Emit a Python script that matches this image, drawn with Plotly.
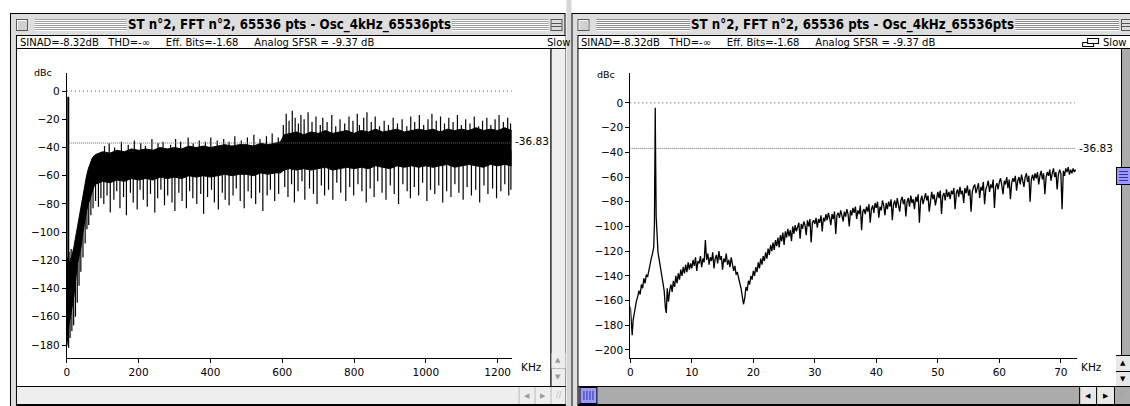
import plotly.graph_objects as go

W, H = 1130, 406

# ---------------- spectrum data ----------------
# Wide-band view (0 - 1240 kHz): band envelope of the dense FFT trace
wide_f = [0, 3, 6, 10, 15, 20, 25, 30, 35, 40, 45, 50, 55, 60, 65, 70, 75, 80, 90,
          100, 120, 140, 160, 180, 200, 220, 240, 260, 280, 300, 320, 340, 360, 380,
          400, 420, 440, 460, 480, 500, 520, 540, 560, 580, 595, 605, 620, 640, 660,
          680, 700, 720, 740, 760, 780, 800, 820, 840, 860, 880, 900, 920, 940, 960,
          980, 1000, 1020, 1040, 1060, 1080, 1100, 1120, 1140, 1160, 1180, 1200, 1220, 1239]
wide_hi = [-124, -118, -122, -119, -116, -110, -103, -96, -88, -80, -72, -66, -60, -55, -51, -48, -46, -45, -44,
           -43, -44, -42, -43, -41, -42, -41, -42, -40, -41, -40, -41, -39, -40, -39,
           -40, -39, -38, -39, -38, -38, -39, -37, -38, -37, -36, -31, -30, -29, -31,
           -29, -30, -28, -30, -29, -28, -30, -28, -29, -27, -29, -28, -27, -29, -28,
           -27, -28, -27, -29, -27, -28, -27, -28, -26, -28, -27, -28, -26, -28]
wide_lo = [-181, -172, -166, -160, -152, -145, -133, -122, -116, -110, -100, -91, -85, -80, -76, -72, -68, -66, -65,
           -64, -65, -63, -64, -62, -63, -62, -63, -61, -62, -61, -62, -60, -61, -60,
           -61, -60, -59, -60, -59, -59, -60, -58, -59, -58, -58, -56, -55, -56, -55,
           -56, -55, -54, -56, -55, -54, -55, -54, -55, -53, -54, -55, -53, -54, -53,
           -54, -53, -54, -53, -52, -54, -53, -52, -53, -54, -52, -53, -52, -53]

# Carrier line of the wide view
carrier_f = [4, 4]
carrier_db = [-120, -4]

# Upward excursions of the wide trace (start level inside the band, peak level)
up_f = [6, 12,
        105, 118, 133, 152, 171, 188, 206, 219, 237, 254, 268, 289, 303, 317, 338, 352, 369, 386,
        401, 419, 437, 452, 468, 486, 503, 521, 538, 556, 572, 589,
        603, 611, 619, 628, 636, 645, 652, 661, 672, 683, 694, 706, 713, 725, 738, 749, 761, 774,
        786, 797, 809, 815, 827, 836, 848, 859, 871, 884, 896, 909, 921, 934, 947, 958, 969, 982,
        994, 1006, 1017, 1029, 1041, 1052, 1064, 1076, 1088, 1099, 1111, 1123, 1135, 1147, 1158,
        1170, 1181, 1193, 1204, 1216, 1228, 1236]
up_from = [-130, -130,
           -48, -48, -48, -48, -48, -48, -48, -48, -48, -48, -48, -48, -48, -48, -48, -48, -48, -48,
           -48, -48, -48, -48, -48, -48, -48, -48, -48, -48, -48, -48,
           -38, -38, -38, -38, -38, -38, -38, -38, -38, -38, -38, -38, -38, -38, -38, -38, -38, -38,
           -38, -38, -38, -38, -38, -38, -38, -38, -38, -38, -38, -38, -38, -38, -38, -38, -38, -38,
           -38, -38, -38, -38, -38, -38, -38, -38, -38, -38, -38, -38, -38, -38, -38,
           -38, -38, -38, -38, -38, -38, -38]
up_to = [-114, -112,
         -39, -37, -40, -36, -38, -35, -37, -39, -34, -37, -36, -38, -34, -36, -33, -37, -35, -36,
         -33, -35, -34, -36, -32, -35, -33, -31, -34, -32, -30, -33,
         -24, -16, -21, -14, -19, -23, -17, -20, -15, -22, -18, -24, -19, -22, -17, -25, -20, -23,
         -18, -21, -16, -24, -19, -15, -22, -18, -25, -21, -24, -19, -23, -20, -25, -18, -22, -17,
         -24, -20, -16, -21, -18, -23, -19, -22, -17, -24, -20, -23, -18, -25, -21,
         -19, -24, -20, -17, -22, -19, -23]

# Downward excursions of the wide trace
dn_f = [5, 9, 14, 19, 24, 29, 34, 39, 45, 51, 56, 61, 67, 73, 80, 88, 95,
        103, 112, 121, 131, 139, 148, 158, 166, 177, 185, 196, 204, 213, 224, 233, 245, 253, 262,
        272, 281, 293, 301, 312, 321, 333, 342, 351, 362, 373, 381, 392, 403, 411, 422, 433, 441,
        452, 463, 472, 483, 494, 505, 514, 526, 537, 546, 558, 567, 579, 590,
        607, 616, 626, 634, 644, 655, 663, 676, 687, 697, 709, 718, 729, 741, 752, 763, 777, 788,
        799, 811, 822, 834, 845, 856, 866, 878, 889, 901, 912, 924, 936, 948, 957, 968, 980, 991,
        1003, 1013, 1025, 1036, 1047, 1058, 1070, 1081, 1092, 1104, 1115, 1127, 1139, 1150, 1162,
        1173, 1186, 1197, 1209, 1220, 1231, 1237]
dn_from = [-140, -140, -135, -128, -120, -110, -100, -95, -86, -78, -70, -65, -60, -55, -55, -55, -52,
           -52, -52, -52, -52, -52, -52, -52, -52, -52, -52, -52, -52, -52, -52, -52, -52, -52, -52,
           -52, -52, -52, -52, -52, -52, -52, -52, -52, -52, -52, -52, -52, -52, -52, -52, -52, -52,
           -52, -52, -52, -52, -52, -52, -52, -52, -52, -52, -52, -52, -52, -52,
           -42, -42, -42, -42, -42, -42, -42, -42, -42, -42, -42, -42, -42, -42, -42, -42, -42, -42,
           -42, -42, -42, -42, -42, -42, -42, -42, -42, -42, -42, -42, -42, -42, -42, -42, -42, -42,
           -42, -42, -42, -42, -42, -42, -42, -42, -42, -42, -42, -42, -42, -42, -42,
           -42, -42, -42, -42, -42, -42, -42]
dn_to = [-182, -175, -170, -166, -160, -150, -138, -128, -118, -108, -98, -95, -88, -83, -78, -82, -76,
         -80, -74, -86, -77, -71, -83, -75, -88, -72, -79, -84, -70, -77, -82, -73, -86, -76, -70,
         -81, -74, -79, -85, -72, -78, -83, -71, -76, -80, -73, -87, -75, -70, -79, -84, -72, -77,
         -81, -74, -69, -78, -83, -71, -76, -80, -72, -85, -74, -70, -78, -73,
         -68, -75, -66, -79, -71, -64, -77, -69, -73, -80, -67, -74, -70, -77, -65, -72, -78, -68,
         -74, -66, -71, -79, -69, -75, -64, -72, -77, -67, -73, -80, -66, -71, -76, -68, -74, -65,
         -78, -70, -73, -67, -79, -71, -75, -66, -72, -77, -68, -74, -70, -79, -67,
         -73, -69, -76, -71, -66, -74, -70]

# Zoomed view (0 - 72 kHz)
zoom_f = [0.0, 0.15, 0.3, 0.45, 0.6, 0.8, 1.0, 1.2, 1.4, 1.6, 1.8, 2.0, 2.2, 2.4, 2.6, 2.8,
          3.0, 3.2, 3.4, 3.6, 3.8, 3.92, 4.0, 4.05, 4.1, 4.2, 4.35, 4.5, 4.7, 4.9, 5.1, 5.3,
          5.5, 5.7, 5.85,
          6.0, 6.2, 6.4, 6.6, 6.8, 7.0, 7.2, 7.4, 7.6, 7.8,
          8.0, 8.2, 8.4, 8.6, 8.8, 9.0, 9.2, 9.4, 9.6, 9.8,
          10.0, 10.2, 10.4, 10.6, 10.8, 11.0, 11.2, 11.4, 11.6, 11.8,
          12.0, 12.2, 12.4, 12.6, 12.8, 13.0, 13.2, 13.4, 13.6, 13.8,
          14.0, 14.2, 14.4, 14.6, 14.8, 15.0, 15.2, 15.4, 15.6, 15.8,
          16.0, 16.2, 16.4, 16.6, 16.8, 17.0, 17.2, 17.4, 17.6, 17.8,
          18.0, 18.2, 18.4, 18.6, 18.8, 19.0, 19.2, 19.4, 19.6, 19.8,
          20.0, 20.2, 20.4, 20.6, 20.8, 21.0, 21.2, 21.4, 21.6, 21.8,
          22.0, 22.2, 22.4, 22.6, 22.8, 23.0, 23.2, 23.4, 23.6, 23.8,
          24.0, 24.2, 24.4, 24.6, 24.8, 25.0, 25.2, 25.4, 25.6, 25.8,
          26.0, 26.2, 26.4, 26.6, 26.8, 27.0, 27.2, 27.4, 27.6, 27.8,
          28.0, 28.2, 28.4, 28.6, 28.8, 29.0, 29.2, 29.4, 29.6, 29.8,
          30.0, 30.2, 30.4, 30.6, 30.8, 31.0, 31.2, 31.4, 31.6, 31.8,
          32.0, 32.2, 32.4, 32.6, 32.8, 33.0, 33.2, 33.4, 33.6, 33.8,
          34.0, 34.2, 34.4, 34.6, 34.8, 35.0, 35.2, 35.4, 35.6, 35.8,
          36.0, 36.2, 36.4, 36.6, 36.8, 37.0, 37.2, 37.4, 37.6, 37.8,
          38.0, 38.2, 38.4, 38.6, 38.8, 39.0, 39.2, 39.4, 39.6, 39.8,
          40.0, 40.2, 40.4, 40.6, 40.8, 41.0, 41.2, 41.4, 41.6, 41.8,
          42.0, 42.2, 42.4, 42.6, 42.8, 43.0, 43.2, 43.4, 43.6, 43.8,
          44.0, 44.2, 44.4, 44.6, 44.8, 45.0, 45.2, 45.4, 45.6, 45.8,
          46.0, 46.2, 46.4, 46.6, 46.8, 47.0, 47.2, 47.4, 47.6, 47.8,
          48.0, 48.2, 48.4, 48.6, 48.8, 49.0, 49.2, 49.4, 49.6, 49.8,
          50.0, 50.2, 50.4, 50.6, 50.8, 51.0, 51.2, 51.4, 51.6, 51.8,
          52.0, 52.2, 52.4, 52.6, 52.8, 53.0, 53.2, 53.4, 53.6, 53.8,
          54.0, 54.2, 54.4, 54.6, 54.8, 55.0, 55.2, 55.4, 55.6, 55.8,
          56.0, 56.2, 56.4, 56.6, 56.8, 57.0, 57.2, 57.4, 57.6, 57.8,
          58.0, 58.2, 58.4, 58.6, 58.8, 59.0, 59.2, 59.4, 59.6, 59.8,
          60.0, 60.2, 60.4, 60.6, 60.8, 61.0, 61.2, 61.4, 61.6, 61.8,
          62.0, 62.2, 62.4, 62.6, 62.8, 63.0, 63.2, 63.4, 63.6, 63.8,
          64.0, 64.2, 64.4, 64.6, 64.8, 65.0, 65.2, 65.4, 65.6, 65.8,
          66.0, 66.2, 66.4, 66.6, 66.8, 67.0, 67.2, 67.4, 67.6, 67.8,
          68.0, 68.2, 68.4, 68.6, 68.8, 69.0, 69.2, 69.4, 69.6, 69.8,
          70.0, 70.2, 70.4, 70.6, 70.8, 71.0, 71.2, 71.4, 71.6, 71.8,
          72.0, 72.2, 72.4]
zoom_db = [-165, -183, -188, -176, -171, -166, -160, -157, -152, -155, -147, -150, -142, -146, -139, -141,
           -135, -131, -126, -122, -117, -98, -40, -4, -38, -92, -109, -121, -127, -134, -139, -147,
           -152, -166, -170,
           -150, -161, -152, -147, -153, -144, -149, -140, -146, -138,
           -143, -135, -140, -133, -138, -131, -137, -129, -135, -130,
           -134, -127, -132, -125, -136, -128, -130, -124, -133, -126,
           -129, -111, -127, -122, -131, -125, -128, -121, -134, -126,
           -123, -130, -120, -127, -124, -135, -126, -129, -122, -131,
           -127, -133, -125, -130, -136, -132, -139, -137, -143, -146,
           -150, -155, -163, -158, -149, -152, -144, -147, -140, -143,
           -136, -140, -133, -137, -129, -134, -126, -131, -124, -128,
           -121, -126, -118, -123, -115, -120, -113, -119, -111, -116,
           -109, -117, -107, -112, -105, -115, -104, -109, -102, -108,
           -103, -112, -100, -106, -99, -104, -101, -97, -110, -98,
           -102, -96, -99, -107, -95, -100, -94, -113, -97, -95,
           -98, -93, -101, -94, -97, -91, -104, -93, -96, -90,
           -95, -89, -93, -99, -90, -94, -88, -106, -91, -89,
           -93, -87, -91, -96, -88, -92, -86, -90, -100, -87,
           -91, -85, -89, -84, -94, -87, -90, -83, -103, -88,
           -86, -90, -84, -88, -82, -97, -86, -83, -89, -81,
           -85, -80, -93, -84, -87, -79, -83, -91, -81, -86,
           -80, -84, -78, -95, -82, -79, -85, -77, -83, -88,
           -79, -76, -82, -78, -92, -80, -77, -84, -75, -81,
           -78, -86, -76, -80, -74, -97, -79, -75, -82, -76,
           -73, -79, -75, -88, -77, -72, -78, -74, -83, -76,
           -72, -77, -71, -90, -75, -73, -79, -70, -76, -72,
           -78, -71, -74, -69, -86, -73, -70, -76, -68, -74,
           -71, -81, -69, -73, -67, -75, -70, -88, -72, -68,
           -66, -73, -69, -65, -77, -68, -71, -64, -82, -70,
           -67, -63, -72, -66, -69, -62, -85, -68, -65, -70,
           -64, -61, -67, -74, -63, -66, -60, -69, -62, -78,
           -65, -61, -64, -59, -71, -63, -60, -66, -58, -62,
           -68, -60, -57, -64, -59, -80, -62, -58, -63, -57,
           -61, -56, -66, -59, -55, -62, -57, -74, -60, -56,
           -59, -54, -63, -57, -53, -60, -56, -70, -58, -54,
           -57, -86, -55, -59, -53, -56, -52, -58, -54, -57,
           -53, -56, -54]

ref_level = -36.83
wide_xticks = [0, 200, 400, 600, 800, 1000, 1200]
zoom_xticks = [0, 10, 20, 30, 40, 50, 60, 70]
wide_yticks = [0, -20, -40, -60, -80, -100, -120, -140, -160, -180]
zoom_yticks = [0, -20, -40, -60, -80, -100, -120, -140, -160, -180, -200]

title_text = "ST n°2, FFT n°2, 65536 pts - Osc_4kHz_65536pts"
status_text = "SINAD=-8.32dB   THD=-\u221e     Eff. Bits=-1.68     Analog SFSR = -9.37 dB"

# ---------------- helpers (pixel -> paper) ----------------
def px(x):
    return x / W


def py(y):
    return 1 - y / H


shapes = []
annotations = []


def rect(x0, y0, x1, y1, fill, layer="below"):
    shapes.append(dict(type="rect", xref="paper", yref="paper",
                       x0=px(x0), x1=px(x1), y0=py(y1), y1=py(y0),
                       fillcolor=fill, layer=layer, line=dict(width=0)))


def text(x, y, s, size=10, anchor="left", family="DejaVu Sans", color="black", bold=False):
    annotations.append(dict(xref="paper", yref="paper", x=px(x), y=py(y),
                            text=("<b>%s</b>" % s) if bold else s,
                            showarrow=False, xanchor=anchor, yanchor="middle",
                            font=dict(size=size, family=family, color=color)))


FONT = "DejaVu Sans"
TOP = 13


def window(x0, x1, active, title_cx):
    frame = "#DDDDDD"
    stripe = "#888888" if active else "#A0A0A0"
    rect(x0, TOP, x1, 406, "#000000")
    rect(x0 + 1, TOP + 1, x1 - 1, 406, frame)
    # title bar pinstripes
    for k in range(6):
        y = TOP + 6 + 2 * k
        for a, b in [(x0 + 25, title_cx - 163), (title_cx + 163, x1 - 17)]:
            rect(a, y, b, y + 1, stripe)
            rect(a, y + 1, b, y + 2, "#FFFFFF")
    # close box
    rect(x0 + 6, TOP + 6, x0 + 18, TOP + 18, "#555555")
    rect(x0 + 7, TOP + 7, x0 + 17, TOP + 17, "#FFFFFF")
    rect(x0 + 8, TOP + 8, x0 + 17, TOP + 17, "#D0D0D0")
    # collapse box
    rect(x1 - 15, TOP + 6, x1 - 3, TOP + 18, "#555555")
    rect(x1 - 14, TOP + 7, x1 - 4, TOP + 17, "#DDDDDD")
    rect(x1 - 14, TOP + 10, x1 - 4, TOP + 11, "#555555")
    rect(x1 - 14, TOP + 13, x1 - 4, TOP + 14, "#555555")
    text(title_cx, TOP + 12, title_text, size=13.2, anchor="center",
         family="DejaVu Sans Condensed", bold=True)
    # content frame
    rect(x0 + 6, TOP + 22, x1, 406, "#000000")
    # status bar
    rect(x0 + 7, TOP + 23, x1, TOP + 35, "#FFFFFF")
    rect(x0 + 7, TOP + 35, x1, TOP + 36, "#000000")
    text(x0 + 8, TOP + 29.5, status_text, size=10, family=FONT)
    # plot area
    rect(x0 + 7, TOP + 36, x1 - 15, 386, "#FFFFFF")
    # vertical scrollbar
    track = "#ABABAB" if active else "#EEEEEE"
    rect(x1 - 15, TOP + 36, x1 - 14, 386, "#000000")
    rect(x1 - 14, TOP + 36, x1, 386, track)
    # horizontal scrollbar
    rect(x0 + 7, 386, x1, 387, "#000000")
    rect(x0 + 7, 387, x1, 404, track)
    rect(x0 + 7, 404, x1, 406, "#000000")


window(7, 564, False, 287)
rect(565, 0, 570, 406, "#D6D6D6")
window(570, 1136, True, 852)

# status bar extras
text(543, TOP + 29.5, "Slow", size=10)
rect(1082, TOP + 29, 1094, TOP + 34, "#000000"); rect(1083, TOP + 30, 1093, TOP + 33, "#FFFFFF")
rect(1087, TOP + 25, 1099, TOP + 31, "#000000"); rect(1088, TOP + 26, 1098, TOP + 30, "#FFFFFF")
text(1101, TOP + 29.5, "Slow", size=10)

# left (inactive) window scroll arrows
rect(550, 353, 564, 368, "#EEEEEE"); rect(550, 368, 564, 369, "#BBBBBB")
text(556.5, 360, "\u25b2", size=7, anchor="center", color="#999999")
text(556.5, 377, "\u25bc", size=7, anchor="center", color="#999999")
rect(533, 387, 534, 404, "#BBBBBB"); rect(549, 387, 550, 404, "#BBBBBB")
rect(517, 387, 518, 404, "#BBBBBB")
text(525.5, 395.5, "\u25c0", size=7, anchor="center", color="#999999")
text(541.5, 395.5, "\u25b6", size=7, anchor="center", color="#999999")
text(557, 395.5, "//", size=8, anchor="center", color="#BBBBBB")
# right (active) window scroll arrows and thumbs
rect(1116, 356, 1130, 386, "#E8E8E8"); rect(1116, 371, 1130, 372, "#000000")
rect(1116, 355, 1130, 356, "#000000")
text(1122.5, 363, "\u25b2", size=7, anchor="center")
text(1122.5, 379, "\u25bc", size=7, anchor="center")
rect(1080, 387, 1115, 404, "#E8E8E8"); rect(1079, 387, 1080, 404, "#000000")
rect(1096, 387, 1097, 404, "#000000"); rect(1114, 387, 1115, 404, "#000000")
text(1088, 395.5, "\u25c0", size=7, anchor="center")
text(1105.5, 395.5, "\u25b6", size=7, anchor="center")
text(1122, 395.5, "//", size=8, anchor="center", color="#999999")
rect(1116, 167, 1130, 185, "#000000"); rect(1117, 168, 1130, 184, "#9999FF")
for k in range(4):
    rect(1119, 171 + 3 * k, 1128, 172 + 3 * k, "#333399")
rect(578, 387, 596, 404, "#000000"); rect(579, 388, 595, 403, "#9999FF")
for k in range(4):
    rect(582 + 3 * k, 391, 583 + 3 * k, 400, "#333399")

# ---------------- traces ----------------
fig = go.Figure()


def segments(fs, a, b):
    xs, ys = [], []
    for f, y0, y1 in zip(fs, a, b):
        xs += [f, f, None]
        ys += [y0, y1, None]
    return xs, ys


fig.add_trace(go.Scatter(x=wide_f, y=wide_hi, mode="lines", line=dict(color="black", width=1),
                         xaxis="x", yaxis="y", hoverinfo="skip"))
fig.add_trace(go.Scatter(x=wide_f, y=wide_lo, mode="lines", line=dict(color="black", width=1),
                         fill="tonexty", fillcolor="black", xaxis="x", yaxis="y", hoverinfo="skip"))
for fs, a, b, w in [(up_f, up_from, up_to, 1.2), (dn_f, dn_from, dn_to, 1.2)]:
    sx, sy = segments(fs, a, b)
    fig.add_trace(go.Scatter(x=sx, y=sy, mode="lines", line=dict(color="black", width=w),
                             xaxis="x", yaxis="y", hoverinfo="skip"))
fig.add_trace(go.Scatter(x=carrier_f, y=carrier_db, mode="lines", line=dict(color="black", width=2),
                         xaxis="x", yaxis="y", hoverinfo="skip"))

fig.add_trace(go.Scatter(x=zoom_f, y=zoom_db, mode="lines", line=dict(color="black", width=1.3),
                         xaxis="x2", yaxis="y2", hoverinfo="skip"))

# reference levels
for xr, yr, xmax in [("x", "y", 1239), ("x2", "y2", 72.3)]:
    shapes.append(dict(type="line", xref=xr, yref=yr, x0=0, x1=xmax, y0=0, y1=0,
                       line=dict(color="#444444", width=1, dash="1px,3px")))
    shapes.append(dict(type="line", xref=xr, yref=yr, x0=0, x1=xmax, y0=ref_level, y1=ref_level,
                       line=dict(color="#666666", width=1, dash="1px,1px")))

# axis captions
text(51, 72, "dBc", size=9.5, anchor="right")
text(616, 75, "dBc", size=9.5, anchor="right")
text(517, 367, "KHz", size=10.5)
text(1079, 367, "KHz", size=10.5)
text(511, 141, "-36.83", size=10.5)
text(1077, 148, "-36.83", size=10.5)

axis_common = dict(showline=True, linecolor="black", linewidth=1, ticks="outside", ticklen=4,
                   tickcolor="black", tickwidth=1, showgrid=False, zeroline=False,
                   tickfont=dict(family=FONT, size=10.5, color="black"), fixedrange=True)

fig.update_layout(
    width=W, height=H, margin=dict(l=0, r=0, t=0, b=0),
    paper_bgcolor="#FFFFFF", plot_bgcolor="rgba(0,0,0,0)",
    shapes=shapes, annotations=annotations, showlegend=False,
    xaxis=dict(domain=[px(64), px(510.7)], range=[0, 1241], tickvals=wide_xticks, anchor="y", **axis_common),
    yaxis=dict(domain=[py(358), py(73)], range=[-189.2, 12.8], tickvals=wide_yticks, anchor="x", **axis_common),
    xaxis2=dict(domain=[px(629), px(1076.7)], range=[0, 72.6], tickvals=zoom_xticks, anchor="y2", **axis_common),
    yaxis2=dict(domain=[py(358), py(73)], range=[-206.5, 24.2], tickvals=zoom_yticks, anchor="x2", **axis_common),
)

fig.write_html("out.html")
